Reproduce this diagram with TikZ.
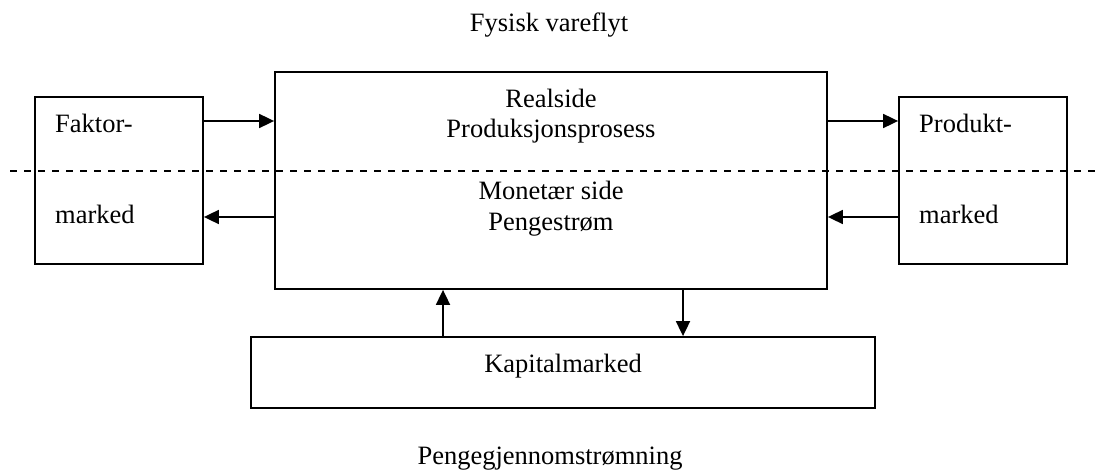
\documentclass[tikz,border=0pt]{standalone}
\usepackage{fontspec}
\setmainfont{Liberation Serif}
\usetikzlibrary{arrows.meta}
\begin{document}
\begin{tikzpicture}[x=1pt,y=-1pt,
  box/.style={draw, line width=1.8pt, inner sep=0pt},
  flow/.style={line width=1.8pt, -{Triangle[length=15pt,width=14pt]}},
  lbl/.style={inner sep=0pt, anchor=base, font=\fontsize{26.5}{31}\selectfont},
  lbll/.style={lbl, anchor=base west},
  divider/.style={line width=1.4pt, dash pattern=on 7pt off 7pt}]
\useasboundingbox (0,0) rectangle (1099,470);

% boxes
\node[box, minimum width=168pt, minimum height=167pt] (fak) at (119,180.5) {};
\node[box, minimum width=552pt, minimum height=217pt] (main) at (551,180.5) {};
\node[box, minimum width=168pt, minimum height=167pt] (prod) at (983,180.5) {};
\node[box, minimum width=624pt, minimum height=71pt] (kap) at (563,372.5) {};

% dashed divider between real and monetary side
\coordinate (dl) at (10,171);
\coordinate (dr) at (1099,171);
\draw[divider] (dl) -- (dr);

% labels
\node[lbl] (t1) at (549,32) {Fysisk vareflyt};
\node[lbl] (t2) at (551,108) {Realside};
\node[lbl] (t3) at (551,138) {Produksjonsprosess};
\node[lbl] (t4) at (551,200) {Monetær side};
\node[lbl] (t5) at (551,230) {Pengestrøm};
\node[lbll] (t6) at (55,133) {Faktor-};
\node[lbll] (t7) at (55,224) {marked};
\node[lbll] (t8) at (919,133) {Produkt-};
\node[lbll] (t9) at (919,224) {marked};
\node[lbl] (t10) at (563,372) {Kapitalmarked};
\node[lbl] (t11) at (550,464) {Pengegjennomstrømning};

% flows
\coordinate (ya) at (0,121);
\coordinate (yb) at (0,217);
\coordinate (xa) at (443,0);
\coordinate (xb) at (683,0);
\draw[flow] (fak.east |- ya) -- (main.west |- ya);
\draw[flow] (main.west |- yb) -- (fak.east |- yb);
\draw[flow] (main.east |- ya) -- (prod.west |- ya);
\draw[flow] (prod.west |- yb) -- (main.east |- yb);
\draw[flow] (xa |- kap.north) -- (xa |- main.south);
\draw[flow] (xb |- main.south) -- (xb |- kap.north);
\end{tikzpicture}
\end{document}
